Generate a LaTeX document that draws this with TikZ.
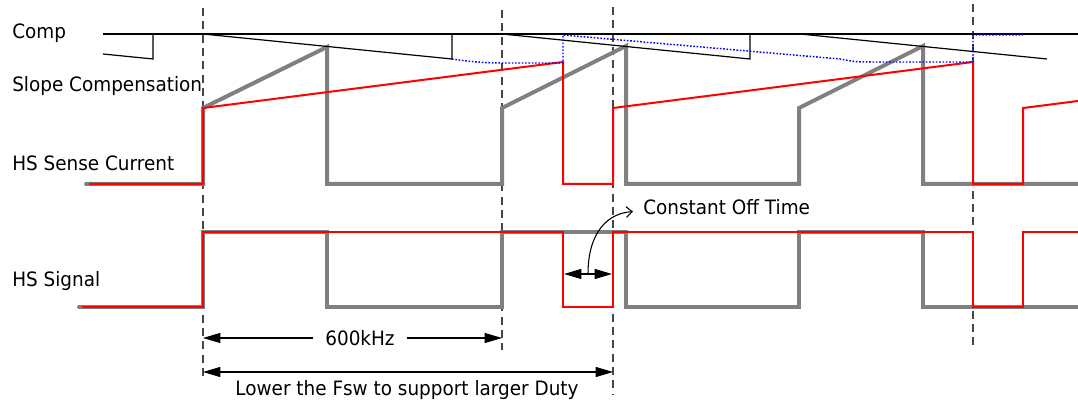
\documentclass[tikz,border=0pt]{standalone}
\usepackage{fontspec}
\setmainfont{DejaVu Sans}[FakeStretch=0.93]
\usetikzlibrary{arrows.meta}
\definecolor{wgray}{RGB}{128,128,128}
\definecolor{wred}{RGB}{255,0,0}
\definecolor{wblue}{RGB}{0,0,255}
\definecolor{dgray}{RGB}{70,70,70}
\begin{document}
\begin{tikzpicture}[x=0.75pt,y=-0.75pt,
  lbl/.style={font=\fontsize{14.85}{18}\selectfont, inner sep=0pt},
  graywave/.style={draw=wgray, line width=3pt, line join=miter},
  redwave/.style={draw=wred, line width=1.5pt, line join=miter},
  compline/.style={draw=black, line width=0.9pt},
  bluedot/.style={draw=wblue, line width=1.1pt, dash pattern=on 1.2pt off 1.3pt},
  vdash/.style={draw=dgray, line width=0.9pt, dash pattern=on 6pt off 4pt},
  dimarrow/.style={draw=black, line width=0.8pt, -{Triangle[length=13pt,width=7.5pt]}},
  dimarrows/.style={draw=black, line width=0.8pt, {Triangle[length=13pt,width=7.5pt]}-{Triangle[length=13pt,width=7.5pt]}},
  callout/.style={draw=black, line width=0.8pt, -{Straight Barb[length=4.5pt,width=8pt]}}
]
\useasboundingbox (0,0) rectangle (1078,402);

% time marks
\coordinate (t0top) at (203,8);  \coordinate (t0bot) at (203,379);
\coordinate (t1top) at (502,10); \coordinate (t1bot) at (502,350);
\coordinate (t2top) at (613,7);  \coordinate (t2bot) at (613,394);
\coordinate (t3top) at (973,4);  \coordinate (t3bot) at (973,345);

% dashed vertical lines
\draw[vdash] (t0top) -- (t0bot);
\draw[vdash] (t1top) -- (t1bot);
\draw[vdash] (t2top) -- (t2bot);
\draw[vdash] (t3top) -- (t3bot);

% labels
\node[lbl, anchor=base west] (comp)  at (12,39)  {Comp};
\node[lbl, anchor=base west] (slope) at (12,92)  {Slope Compensation};
\node[lbl, anchor=base west] (hscur) at (12,171) {HS Sense Current};
\node[lbl, anchor=base west] (hssig) at (12,287) {HS Signal};

% HS sense current
\draw[graywave, line cap=round] (86,184) -- (203,184) -- (203,108) -- (327,47) -- (327,184)
  -- (502,184) -- (502,108) -- (626,46) -- (626,184) -- (799,184) -- (799,108)
  -- (923,46) -- (923,184) -- (1078,184);
\draw[redwave] (89,184) -- (203,184) -- (203,108) -- (563,62) -- (563,184) -- (613,184)
  -- (613,108) -- (973,62) -- (973,184) -- (1023,184) -- (1023,108) -- (1078,101);

% HS signal
\draw[graywave, line cap=round] (79,307) -- (203,307) -- (203,232) -- (327,232) -- (327,307)
  -- (502,307) -- (502,232) -- (626,232) -- (626,307) -- (799,307) -- (799,232)
  -- (923,232) -- (923,307) -- (1078,307);
\draw[redwave] (82,307) -- (203,307) -- (203,232) -- (563,232) -- (563,307) -- (613,307)
  -- (613,232) -- (973,232) -- (973,307) -- (1023,307) -- (1023,232) -- (1078,232);

% comp
\draw[compline, line width=1.2pt] (103,34) -- (1078,34);
\draw[compline] (103,54) -- (153,59) -- (153,34);
\draw[compline] (203,34) -- (452,59) -- (452,34);
\draw[compline] (502,34) -- (750,59) -- (750,34);
\draw[compline] (800,34) -- (1047,59);

% blue dotted compensation
\draw[bluedot] (452,59) .. controls (472,62) and (485,63) .. (503,63) -- (563,63) -- (563,35)
  -- (840,59) .. controls (856,62) .. (880,62) -- (973,62) -- (973,35) -- (1023,35);

% constant off time
\coordinate (cotL) at (564,274);
\coordinate (cotR) at (612,274);
\coordinate (cotM) at (588,274);
\draw[dimarrows] (cotL) -- (cotR);
\node[lbl, anchor=base west] (cot) at (643,215) {Constant Off Time};
\draw[callout] (cotM) .. controls (588,232) and (608,213) .. ([xshift=-7.5pt,yshift=-3pt]cot.west);

% 600kHz
\node[lbl, anchor=base, inner xsep=9pt] (khz) at (360,346) {600kHz};
\coordinate (kL) at (203,338);
\coordinate (kR) at (502,338);
\draw[dimarrow] (khz.west |- kL) -- (kL);
\draw[dimarrow] (khz.east |- kR) -- (kR);

% Lower the Fsw
\coordinate (lL) at (203,372);
\coordinate (lR) at (613,372);
\draw[dimarrows] (lL) -- (lR);
\node[lbl, anchor=base] (lower) at (407,396) {Lower the Fsw to support larger Duty};
\end{tikzpicture}
\end{document}
